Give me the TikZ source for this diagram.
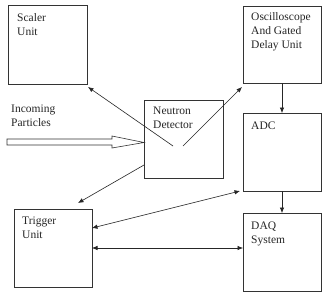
\documentclass[tikz,border=0pt]{standalone}
\usepackage{fontspec}
\setmainfont{Liberation Serif}
\usetikzlibrary{arrows.meta}
\begin{document}
\begin{tikzpicture}[x=1pt,y=-1pt,
  box/.style={draw=black!80,line width=0.8pt},
  lbl/.style={anchor=north west,inner sep=0pt,align=left,font=\fontsize{11.5}{14}\selectfont,text=black!85},
  conn/.style={draw=black!85,line width=0.6pt,-{Latex[length=5.5pt,width=4.5pt]}},
  biconn/.style={draw=black!85,line width=0.6pt,{Latex[length=5.5pt,width=4.5pt]}-{Latex[length=5.5pt,width=4.5pt]}}]
\useasboundingbox (0,0) rectangle (330,298);
\fill[white] (0,0) rectangle (330,298);
% boxes
\draw[box] (8,5) rectangle (87,84);
\coordinate (scaler) at (88,87);
\draw[box] (243,6) rectangle (321,83);
\draw[box] (243,113) rectangle (321,191);
\draw[box] (243,213) rectangle (321,291);
\draw[box] (14,209) rectangle (92,287);
\draw[box] (144,100) rectangle (223,178);
% labels
\node[lbl] (tscaler) at (17,13) {Scaler\\Unit};
\node[lbl] (tosc) at (251,12) {Oscilloscope\\And Gated\\Delay Unit};
\node[lbl] (tadc) at (251,122) {ADC};
\node[lbl] (tdaq) at (251,222) {DAQ\\System};
\node[lbl] (ttrig) at (22,217) {Trigger\\Unit};
\node[lbl] (tdet) at (153,107) {Neutron\\Detector};
\node[lbl] (tinc) at (11,105) {Incoming\\Particles};
% coordinates
\coordinate (s1) at (173,146);
\coordinate (s1e) at (88,87);
\coordinate (o1) at (183,146);
\coordinate (o1e) at (242,87);
\coordinate (d1) at (144,165);
\coordinate (d1e) at (78,203);
\coordinate (oa) at (282,83);
\coordinate (ob) at (282,113);
\coordinate (ad) at (282,191);
\coordinate (ae) at (282,213);
\coordinate (ta) at (92,228);
\coordinate (tb) at (240,191);
\coordinate (tc) at (92,248);
\coordinate (td) at (243,248);
% connectors
\draw[conn] (s1) -- (s1e);
\draw[conn] (o1) -- (o1e);
\draw[conn] (d1) -- (d1e);
\draw[conn] (oa) -- (ob);
\draw[conn] (ad) -- (ae);
\draw[biconn] (ta) -- (tb);
\draw[biconn] (tc) -- (td);
% hollow arrow
\draw[draw=black!80,line width=0.6pt,fill=white]
  (7,139) -- (112,139) -- (112,136) -- (144,142.5) -- (112,148) -- (112,145) -- (7,145) -- cycle;
\end{tikzpicture}
\end{document}
